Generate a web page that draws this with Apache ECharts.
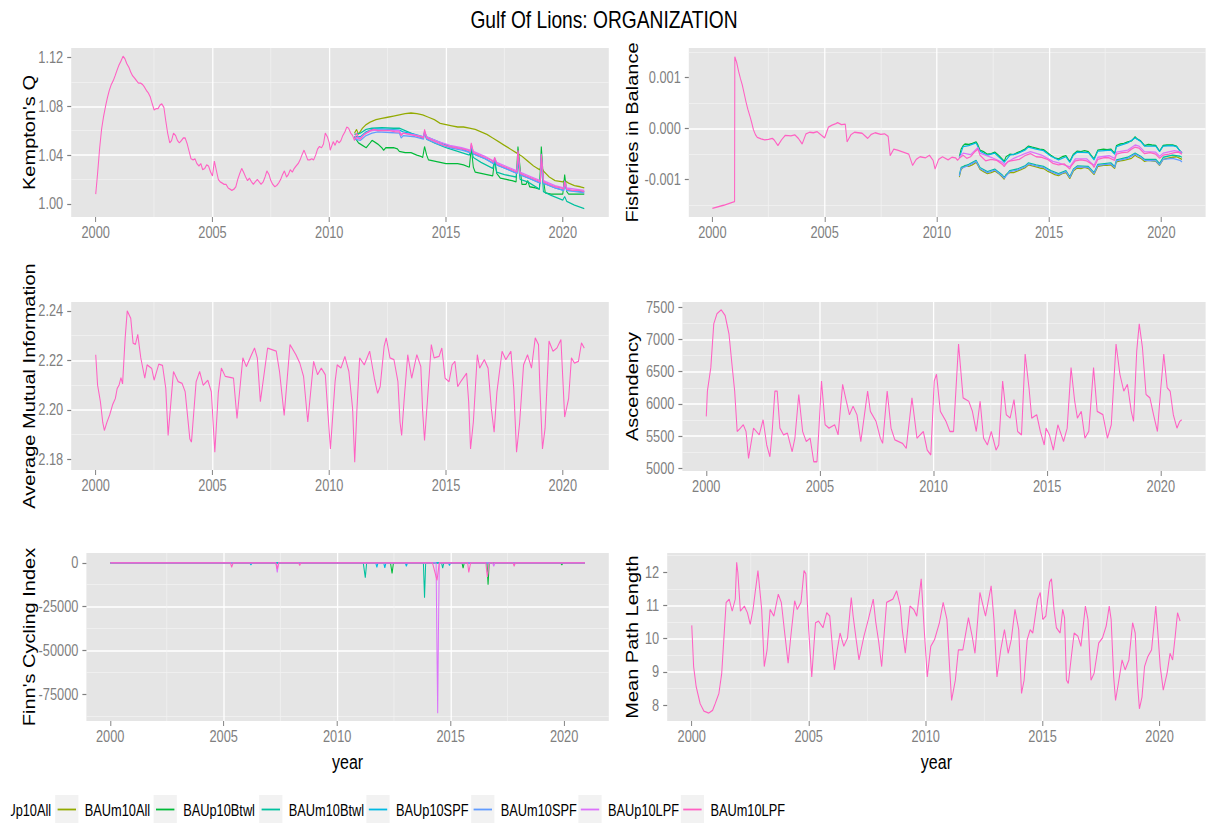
<!DOCTYPE html>
<html>
<head>
<meta charset="utf-8">
<script src="https://cdn.jsdelivr.net/npm/echarts@6.0.0/dist/echarts.min.js"></script>
<style>
  html, body { margin: 0; padding: 0; background: #ffffff; overflow: hidden; width: 1208px; height: 823px; }
  /* the figure is laid out on a wider sheet and narrowed horizontally, like a stretched R device */
  #chart { width: 1510px; height: 823px; transform: scaleX(0.8); transform-origin: 0 0; }
</style>
</head>
<body>
<div id="chart"></div>
<script>
// ---------------- tick labels ----------------
const yearTicks = [2000, 2005, 2010, 2015, 2020];
const kqTicks = [1.00, 1.04, 1.08, 1.12];
const fibTicks = [-0.001, 0, 0.001];
const amiTicks = [2.18, 2.20, 2.22, 2.24];
const ascTicks = [5000, 5500, 6000, 6500, 7000, 7500];
const fciTicks = [-75000, -50000, -25000, 0];
const mplTicks = [8, 9, 10, 11, 12];

// ---------------- scenario names ----------------
const scenarios = ['BAUp10All', 'BAUm10All', 'BAUp10Btwl', 'BAUm10Btwl', 'BAUp10SPF', 'BAUm10SPF', 'BAUp10LPF', 'BAUm10LPF'];

// ---------------- Kempton's Q ----------------
const kqBAUm10LPF = [[2000.00,1.008],[2000.08,1.025],[2000.17,1.046],[2000.25,1.061],[2000.33,1.071],[2000.42,1.080],[2000.50,1.087],[2000.58,1.093],[2000.67,1.098],[2000.75,1.101],[2000.83,1.105],[2000.92,1.110],[2001.00,1.114],[2001.08,1.117],[2001.17,1.121],[2001.25,1.119],[2001.33,1.115],[2001.42,1.112],[2001.50,1.108],[2001.58,1.105],[2001.67,1.103],[2001.75,1.101],[2001.83,1.099],[2001.92,1.099],[2002.00,1.098],[2002.08,1.096],[2002.17,1.093],[2002.25,1.091],[2002.33,1.088],[2002.42,1.082],[2002.50,1.077],[2002.58,1.078],[2002.67,1.078],[2002.75,1.081],[2002.83,1.082],[2002.92,1.079],[2003.00,1.068],[2003.08,1.058],[2003.17,1.050],[2003.25,1.052],[2003.33,1.058],[2003.42,1.056],[2003.50,1.052],[2003.58,1.050],[2003.67,1.052],[2003.75,1.054],[2003.83,1.054],[2003.92,1.049],[2004.00,1.043],[2004.08,1.037],[2004.17,1.036],[2004.25,1.037],[2004.33,1.033],[2004.42,1.031],[2004.50,1.033],[2004.58,1.028],[2004.67,1.029],[2004.75,1.032],[2004.83,1.031],[2004.92,1.026],[2005.00,1.023],[2005.08,1.035],[2005.17,1.027],[2005.25,1.020],[2005.33,1.018],[2005.42,1.017],[2005.50,1.016],[2005.58,1.016],[2005.67,1.013],[2005.75,1.012],[2005.83,1.011],[2005.92,1.012],[2006.00,1.014],[2006.08,1.020],[2006.17,1.025],[2006.25,1.029],[2006.33,1.026],[2006.42,1.022],[2006.50,1.019],[2006.58,1.021],[2006.67,1.018],[2006.75,1.016],[2006.83,1.018],[2006.92,1.020],[2007.00,1.018],[2007.08,1.016],[2007.17,1.018],[2007.25,1.022],[2007.33,1.027],[2007.42,1.024],[2007.50,1.019],[2007.58,1.016],[2007.67,1.014],[2007.75,1.015],[2007.83,1.017],[2007.92,1.020],[2008.00,1.024],[2008.08,1.027],[2008.17,1.022],[2008.25,1.024],[2008.33,1.028],[2008.42,1.026],[2008.50,1.029],[2008.58,1.031],[2008.67,1.033],[2008.75,1.036],[2008.83,1.040],[2008.92,1.044],[2009.00,1.040],[2009.08,1.036],[2009.17,1.036],[2009.25,1.037],[2009.33,1.036],[2009.42,1.040],[2009.50,1.045],[2009.58,1.047],[2009.67,1.046],[2009.75,1.049],[2009.83,1.058],[2009.92,1.055],[2010.00,1.050],[2010.04,1.044],[2010.17,1.051],[2010.25,1.048],[2010.33,1.052],[2010.42,1.050],[2010.50,1.052],[2010.58,1.056],[2010.67,1.059],[2010.75,1.063],[2010.83,1.062],[2010.92,1.058],[2011.00,1.056],[2011.08,1.052],[2011.17,1.058],[2011.25,1.054],[2011.33,1.053],[2011.42,1.055],[2011.50,1.057],[2011.58,1.058],[2011.75,1.060],[2011.92,1.061],[2012.08,1.060],[2012.33,1.060],[2012.58,1.060],[2012.83,1.059],[2013.00,1.059],[2013.08,1.056],[2013.17,1.058],[2013.42,1.057],[2013.67,1.056],[2013.92,1.055],[2014.04,1.054],[2014.08,1.061],[2014.17,1.054],[2014.42,1.052],[2014.67,1.050],[2014.92,1.048],[2015.17,1.047],[2015.42,1.046],[2015.67,1.045],[2015.92,1.044],[2016.04,1.043],[2016.08,1.050],[2016.17,1.042],[2016.42,1.040],[2016.67,1.038],[2016.92,1.036],[2017.04,1.034],[2017.08,1.038],[2017.17,1.033],[2017.42,1.031],[2017.67,1.029],[2017.92,1.027],[2018.04,1.026],[2018.08,1.044],[2018.17,1.025],[2018.42,1.023],[2018.67,1.021],[2018.92,1.019],[2019.04,1.018],[2019.08,1.040],[2019.17,1.018],[2019.42,1.016],[2019.67,1.014],[2019.92,1.013],[2020.04,1.012],[2020.08,1.018],[2020.17,1.012],[2020.42,1.011],[2020.67,1.011],[2020.92,1.010]];
const kqBAUm10All = [[2011.08,1.058],[2011.17,1.061],[2011.25,1.057],[2011.42,1.062],[2011.58,1.065],[2011.75,1.067],[2012.00,1.069],[2012.25,1.070],[2012.50,1.071],[2012.75,1.072],[2013.00,1.073],[2013.25,1.074],[2013.50,1.0745],[2013.75,1.074],[2014.00,1.073],[2014.25,1.071],[2014.50,1.069],[2014.75,1.066],[2015.00,1.065],[2015.25,1.064],[2015.50,1.063],[2015.75,1.063],[2016.00,1.062],[2016.25,1.061],[2016.50,1.059],[2016.75,1.057],[2017.00,1.054],[2017.25,1.051],[2017.50,1.048],[2017.75,1.045],[2018.00,1.042],[2018.25,1.039],[2018.50,1.035],[2018.75,1.031],[2019.00,1.028],[2019.08,1.030],[2019.17,1.027],[2019.42,1.022],[2019.67,1.019],[2020.00,1.018],[2020.08,1.019],[2020.25,1.017],[2020.50,1.015],[2020.75,1.014],[2020.92,1.013]];
const kqBAUp10Btwl = [[2011.08,1.055],[2011.25,1.050],[2011.42,1.048],[2011.58,1.046],[2011.75,1.050],[2011.83,1.052],[2011.92,1.051],[2012.08,1.049],[2012.25,1.046],[2012.33,1.044],[2012.42,1.046],[2012.58,1.046],[2012.75,1.046],[2012.92,1.045],[2013.00,1.043],[2013.25,1.042],[2013.50,1.042],[2013.75,1.040],[2013.92,1.039],[2014.00,1.038],[2014.08,1.047],[2014.17,1.040],[2014.25,1.036],[2014.50,1.035],[2014.75,1.034],[2015.00,1.033],[2015.50,1.033],[2015.75,1.032],[2016.00,1.030],[2016.08,1.046],[2016.17,1.030],[2016.25,1.026],[2016.50,1.025],[2016.75,1.024],[2017.00,1.023],[2017.08,1.036],[2017.17,1.025],[2017.33,1.021],[2017.58,1.020],[2017.83,1.019],[2018.00,1.018],[2018.08,1.047],[2018.17,1.030],[2018.25,1.016],[2018.42,1.016],[2018.50,1.019],[2018.58,1.014],[2018.83,1.013],[2019.00,1.012],[2019.08,1.047],[2019.17,1.020],[2019.25,1.009],[2019.50,1.008],[2019.75,1.008],[2020.00,1.008],[2020.08,1.024],[2020.17,1.010],[2020.25,1.008],[2020.50,1.008],[2020.92,1.008]];
const kqBAUm10Btwl = [[2011.08,1.057],[2011.33,1.058],[2011.58,1.061],[2011.83,1.062],[2012.25,1.0625],[2012.75,1.062],[2013.00,1.062],[2013.25,1.060],[2013.50,1.058],[2013.75,1.056],[2014.00,1.054],[2014.08,1.058],[2014.17,1.053],[2014.50,1.050],[2015.00,1.046],[2015.50,1.043],[2016.00,1.040],[2016.08,1.046],[2016.17,1.038],[2016.50,1.034],[2017.00,1.029],[2017.08,1.035],[2017.17,1.026],[2017.50,1.024],[2018.00,1.022],[2018.08,1.036],[2018.17,1.020],[2018.50,1.018],[2019.00,1.012],[2019.08,1.036],[2019.17,1.010],[2019.50,1.007],[2020.00,1.003],[2020.08,1.006],[2020.17,1.002],[2020.50,0.999],[2020.92,0.996]];
const kqBAUp10SPF = [[2011.08,1.055],[2011.33,1.055],[2011.58,1.059],[2011.83,1.061],[2012.08,1.0615],[2012.58,1.061],[2013.00,1.0605],[2013.17,1.059],[2013.67,1.057],[2014.04,1.055],[2014.08,1.059],[2014.17,1.055],[2014.67,1.051],[2015.17,1.047],[2015.67,1.045],[2016.04,1.042],[2016.08,1.047],[2016.17,1.041],[2016.67,1.037],[2017.04,1.033],[2017.08,1.037],[2017.17,1.032],[2017.67,1.028],[2018.04,1.025],[2018.08,1.041],[2018.17,1.024],[2018.67,1.020],[2019.04,1.017],[2019.08,1.038],[2019.17,1.017],[2019.67,1.013],[2020.04,1.011],[2020.08,1.016],[2020.17,1.011],[2020.92,1.010]];
const kqBAUm10SPF = [[2011.08,1.053],[2011.33,1.052],[2011.58,1.056],[2011.83,1.058],[2012.08,1.059],[2012.58,1.0585],[2013.00,1.058],[2013.08,1.054],[2013.17,1.056],[2013.67,1.055],[2014.04,1.053],[2014.08,1.059],[2014.17,1.053],[2014.67,1.049],[2015.17,1.046],[2015.67,1.044],[2016.04,1.042],[2016.08,1.048],[2016.17,1.041],[2016.67,1.037],[2017.04,1.033],[2017.08,1.037],[2017.17,1.032],[2017.67,1.028],[2018.04,1.025],[2018.08,1.042],[2018.17,1.024],[2018.67,1.020],[2019.04,1.017],[2019.08,1.039],[2019.17,1.017],[2019.67,1.013],[2020.04,1.011],[2020.08,1.017],[2020.17,1.011],[2020.92,1.009]];
const kqBAUp10LPF = [[2011.08,1.054],[2011.33,1.054],[2011.58,1.058],[2011.83,1.060],[2012.08,1.0605],[2012.58,1.0605],[2013.00,1.060],[2013.08,1.057],[2013.17,1.058],[2013.67,1.0565],[2014.04,1.055],[2014.08,1.060],[2014.17,1.055],[2014.67,1.051],[2015.17,1.048],[2015.67,1.046],[2016.04,1.044],[2016.08,1.049],[2016.17,1.043],[2016.67,1.039],[2017.04,1.035],[2017.08,1.038],[2017.17,1.034],[2017.67,1.030],[2018.04,1.027],[2018.08,1.043],[2018.17,1.026],[2018.67,1.022],[2019.04,1.019],[2019.08,1.041],[2019.17,1.019],[2019.67,1.015],[2020.04,1.013],[2020.08,1.019],[2020.17,1.013],[2020.92,1.011]];

// ---------------- Fisheries in Balance ----------------
const fibBAUm10LPF = [[2000.00,-1.56e-3],[2000.50,-1.50e-3],[2000.92,-1.44e-3],[2000.99,-1.43e-3],[2001.00,1.41e-3],[2001.08,1.30e-3],[2001.17,1.12e-3],[2001.25,0.98e-3],[2001.33,0.86e-3],[2001.42,0.68e-3],[2001.50,0.52e-3],[2001.58,0.38e-3],[2001.67,0.25e-3],[2001.75,0.12e-3],[2001.83,-0.02e-3],[2001.92,-0.12e-3],[2002.00,-0.17e-3],[2002.17,-0.20e-3],[2002.33,-0.22e-3],[2002.50,-0.21e-3],[2002.67,-0.19e-3],[2002.75,-0.22e-3],[2002.92,-0.33e-3],[2003.08,-0.22e-3],[2003.25,-0.13e-3],[2003.50,-0.14e-3],[2003.67,-0.12e-3],[2003.83,-0.19e-3],[2004.00,-0.30e-3],[2004.17,-0.10e-3],[2004.33,-0.07e-3],[2004.50,-0.08e-3],[2004.67,-0.06e-3],[2004.83,-0.12e-3],[2005.00,-0.18e-3],[2005.17,0.03e-3],[2005.33,0.07e-3],[2005.50,0.10e-3],[2005.58,0.12e-3],[2005.75,0.08e-3],[2005.92,0.09e-3],[2006.00,-0.26e-3],[2006.17,-0.12e-3],[2006.33,-0.07e-3],[2006.50,-0.08e-3],[2006.67,-0.09e-3],[2006.92,-0.19e-3],[2007.08,-0.11e-3],[2007.25,-0.08e-3],[2007.50,-0.11e-3],[2007.67,-0.10e-3],[2007.83,-0.15e-3],[2007.92,-0.53e-3],[2008.08,-0.40e-3],[2008.25,-0.42e-3],[2008.50,-0.46e-3],[2008.75,-0.50e-3],[2008.92,-0.72e-3],[2009.08,-0.60e-3],[2009.25,-0.55e-3],[2009.50,-0.57e-3],[2009.67,-0.52e-3],[2009.83,-0.62e-3],[2009.92,-0.79e-3],[2010.08,-0.60e-3],[2010.25,-0.55e-3],[2010.50,-0.61e-3],[2010.67,-0.56e-3],[2010.83,-0.57e-3],[2010.92,-0.62e-3],[2011.00,-0.58e-3],[2011.17,-0.52e-3],[2011.33,-0.58e-3],[2011.50,-0.55e-3],[2011.67,-0.46e-3],[2011.83,-0.40e-3],[2011.92,-0.52e-3],[2012.17,-0.63e-3],[2012.42,-0.60e-3],[2012.67,-0.62e-3],[2012.92,-0.70e-3],[2013.00,-0.74e-3],[2013.17,-0.64e-3],[2013.42,-0.62e-3],[2013.67,-0.60e-3],[2013.92,-0.53e-3],[2014.17,-0.49e-3],[2014.42,-0.55e-3],[2014.67,-0.56e-3],[2014.92,-0.60e-3],[2015.17,-0.68e-3],[2015.42,-0.71e-3],[2015.67,-0.69e-3],[2015.92,-0.79e-3],[2016.00,-0.72e-3],[2016.17,-0.63e-3],[2016.42,-0.61e-3],[2016.67,-0.63e-3],[2016.92,-0.70e-3],[2017.00,-0.76e-3],[2017.17,-0.60e-3],[2017.42,-0.57e-3],[2017.67,-0.57e-3],[2017.92,-0.62e-3],[2018.00,-0.50e-3],[2018.25,-0.47e-3],[2018.50,-0.46e-3],[2018.67,-0.40e-3],[2018.83,-0.36e-3],[2019.00,-0.38e-3],[2019.25,-0.49e-3],[2019.50,-0.47e-3],[2019.75,-0.50e-3],[2019.92,-0.58e-3],[2020.08,-0.52e-3],[2020.33,-0.50e-3],[2020.58,-0.47e-3],[2020.75,-0.46e-3],[2020.92,-0.50e-3]];
const fibBAUp10Btwl = [[2011.00,-0.55e-3],[2011.08,-0.40e-3],[2011.17,-0.33e-3],[2011.25,-0.30e-3],[2011.42,-0.31e-3],[2011.58,-0.29e-3],[2011.75,-0.26e-3],[2011.83,-0.32e-3],[2011.92,-0.42e-3],[2012.08,-0.45e-3],[2012.25,-0.50e-3],[2012.42,-0.49e-3],[2012.58,-0.46e-3],[2012.75,-0.52e-3],[2012.92,-0.60e-3],[2013.00,-0.64e-3],[2013.08,-0.55e-3],[2013.25,-0.50e-3],[2013.42,-0.51e-3],[2013.58,-0.47e-3],[2013.75,-0.44e-3],[2013.92,-0.40e-3],[2014.08,-0.34e-3],[2014.25,-0.36e-3],[2014.42,-0.38e-3],[2014.58,-0.40e-3],[2014.75,-0.41e-3],[2014.92,-0.47e-3],[2015.08,-0.52e-3],[2015.25,-0.57e-3],[2015.42,-0.59e-3],[2015.58,-0.55e-3],[2015.75,-0.53e-3],[2015.92,-0.64e-3],[2016.08,-0.50e-3],[2016.25,-0.44e-3],[2016.42,-0.45e-3],[2016.58,-0.43e-3],[2016.75,-0.45e-3],[2016.92,-0.55e-3],[2017.00,-0.59e-3],[2017.17,-0.42e-3],[2017.42,-0.40e-3],[2017.58,-0.41e-3],[2017.75,-0.40e-3],[2017.92,-0.48e-3],[2018.00,-0.33e-3],[2018.17,-0.30e-3],[2018.33,-0.29e-3],[2018.50,-0.26e-3],[2018.67,-0.24e-3],[2018.83,-0.16e-3],[2018.92,-0.20e-3],[2019.08,-0.24e-3],[2019.25,-0.33e-3],[2019.42,-0.31e-3],[2019.58,-0.32e-3],[2019.75,-0.33e-3],[2019.92,-0.44e-3],[2020.08,-0.33e-3],[2020.25,-0.32e-3],[2020.50,-0.32e-3],[2020.67,-0.34e-3],[2020.83,-0.44e-3],[2020.92,-0.47e-3]];
const fibBAUp10SPF = [[2011.00,-0.57e-3],[2011.17,-0.35e-3],[2011.42,-0.33e-3],[2011.75,-0.28e-3],[2011.92,-0.44e-3],[2012.25,-0.52e-3],[2012.58,-0.48e-3],[2012.92,-0.62e-3],[2013.00,-0.66e-3],[2013.25,-0.52e-3],[2013.58,-0.49e-3],[2013.92,-0.42e-3],[2014.08,-0.36e-3],[2014.42,-0.40e-3],[2014.75,-0.43e-3],[2015.08,-0.54e-3],[2015.42,-0.61e-3],[2015.75,-0.55e-3],[2015.92,-0.66e-3],[2016.08,-0.52e-3],[2016.25,-0.46e-3],[2016.75,-0.47e-3],[2017.00,-0.61e-3],[2017.17,-0.44e-3],[2017.75,-0.42e-3],[2017.92,-0.50e-3],[2018.00,-0.35e-3],[2018.50,-0.28e-3],[2018.83,-0.18e-3],[2019.08,-0.25e-3],[2019.25,-0.34e-3],[2019.75,-0.34e-3],[2019.92,-0.45e-3],[2020.08,-0.34e-3],[2020.50,-0.33e-3],[2020.67,-0.35e-3],[2020.92,-0.48e-3]];
const fibBAUp10LPF = [[2011.00,-0.55e-3],[2011.17,-0.48e-3],[2011.50,-0.51e-3],[2011.83,-0.37e-3],[2011.92,-0.48e-3],[2012.42,-0.56e-3],[2012.92,-0.66e-3],[2013.00,-0.70e-3],[2013.42,-0.58e-3],[2013.92,-0.49e-3],[2014.17,-0.45e-3],[2014.67,-0.52e-3],[2015.17,-0.64e-3],[2015.42,-0.67e-3],[2015.92,-0.75e-3],[2016.17,-0.59e-3],[2016.67,-0.59e-3],[2017.00,-0.72e-3],[2017.17,-0.56e-3],[2017.67,-0.53e-3],[2017.92,-0.58e-3],[2018.00,-0.46e-3],[2018.50,-0.42e-3],[2018.83,-0.32e-3],[2019.00,-0.34e-3],[2019.25,-0.45e-3],[2019.75,-0.46e-3],[2019.92,-0.54e-3],[2020.08,-0.48e-3],[2020.58,-0.43e-3],[2020.92,-0.46e-3]];
const fibBAUm10Btwl = [[2011.00,-0.90e-3],[2011.08,-0.76e-3],[2011.42,-0.70e-3],[2011.75,-0.62e-3],[2011.92,-0.76e-3],[2012.25,-0.84e-3],[2012.58,-0.79e-3],[2012.92,-0.91e-3],[2013.00,-0.95e-3],[2013.25,-0.82e-3],[2013.58,-0.79e-3],[2013.92,-0.73e-3],[2014.08,-0.67e-3],[2014.42,-0.71e-3],[2014.75,-0.74e-3],[2015.08,-0.82e-3],[2015.42,-0.88e-3],[2015.75,-0.82e-3],[2015.92,-0.94e-3],[2016.08,-0.79e-3],[2016.25,-0.73e-3],[2016.75,-0.74e-3],[2017.00,-0.86e-3],[2017.17,-0.70e-3],[2017.75,-0.67e-3],[2017.92,-0.74e-3],[2018.00,-0.61e-3],[2018.50,-0.56e-3],[2018.83,-0.48e-3],[2019.08,-0.54e-3],[2019.25,-0.60e-3],[2019.75,-0.60e-3],[2019.92,-0.68e-3],[2020.08,-0.56e-3],[2020.50,-0.52e-3],[2020.83,-0.54e-3],[2020.92,-0.56e-3]];
const fibBAUm10SPF = [[2011.00,-0.93e-3],[2011.08,-0.78e-3],[2011.42,-0.72e-3],[2011.75,-0.64e-3],[2011.92,-0.78e-3],[2012.25,-0.86e-3],[2012.58,-0.81e-3],[2012.92,-0.93e-3],[2013.00,-0.97e-3],[2013.25,-0.84e-3],[2013.58,-0.81e-3],[2013.92,-0.75e-3],[2014.08,-0.69e-3],[2014.42,-0.73e-3],[2014.75,-0.76e-3],[2015.08,-0.84e-3],[2015.42,-0.90e-3],[2015.75,-0.84e-3],[2015.92,-0.96e-3],[2016.08,-0.81e-3],[2016.25,-0.75e-3],[2016.75,-0.76e-3],[2017.00,-0.88e-3],[2017.17,-0.72e-3],[2017.75,-0.69e-3],[2017.92,-0.76e-3],[2018.00,-0.63e-3],[2018.50,-0.58e-3],[2018.83,-0.50e-3],[2019.08,-0.56e-3],[2019.25,-0.62e-3],[2019.75,-0.63e-3],[2019.92,-0.71e-3],[2020.08,-0.60e-3],[2020.50,-0.58e-3],[2020.83,-0.62e-3],[2020.92,-0.65e-3]];
const fibBAUm10All = [[2011.00,-0.95e-3],[2011.08,-0.80e-3],[2011.25,-0.72e-3],[2011.42,-0.74e-3],[2011.58,-0.71e-3],[2011.75,-0.66e-3],[2011.83,-0.72e-3],[2011.92,-0.80e-3],[2012.08,-0.84e-3],[2012.25,-0.88e-3],[2012.42,-0.86e-3],[2012.58,-0.83e-3],[2012.75,-0.88e-3],[2012.92,-0.95e-3],[2013.00,-0.99e-3],[2013.08,-0.90e-3],[2013.25,-0.86e-3],[2013.42,-0.86e-3],[2013.58,-0.83e-3],[2013.75,-0.80e-3],[2013.92,-0.77e-3],[2014.08,-0.71e-3],[2014.25,-0.73e-3],[2014.42,-0.75e-3],[2014.58,-0.77e-3],[2014.75,-0.78e-3],[2014.92,-0.83e-3],[2015.08,-0.86e-3],[2015.25,-0.90e-3],[2015.42,-0.92e-3],[2015.58,-0.88e-3],[2015.75,-0.86e-3],[2015.92,-0.98e-3],[2016.08,-0.83e-3],[2016.25,-0.77e-3],[2016.42,-0.78e-3],[2016.58,-0.76e-3],[2016.75,-0.78e-3],[2016.92,-0.86e-3],[2017.00,-0.90e-3],[2017.17,-0.74e-3],[2017.42,-0.72e-3],[2017.58,-0.72e-3],[2017.75,-0.71e-3],[2017.92,-0.78e-3],[2018.00,-0.65e-3],[2018.17,-0.63e-3],[2018.33,-0.62e-3],[2018.50,-0.60e-3],[2018.67,-0.58e-3],[2018.83,-0.52e-3],[2018.92,-0.55e-3],[2019.08,-0.58e-3],[2019.25,-0.64e-3],[2019.42,-0.62e-3],[2019.58,-0.63e-3],[2019.75,-0.64e-3],[2019.92,-0.72e-3],[2020.08,-0.60e-3],[2020.25,-0.58e-3],[2020.50,-0.56e-3],[2020.67,-0.55e-3],[2020.83,-0.58e-3],[2020.92,-0.60e-3]];

// ---------------- Average Mutual Information ----------------
const amiBAUm10LPF = [[2000.00,2.2223],[2000.08,2.2100],[2000.20,2.2033],[2000.30,2.1950],[2000.37,2.1917],[2000.48,2.1950],[2000.60,2.1980],[2000.72,2.2020],[2000.84,2.2046],[2000.92,2.2087],[2001.00,2.2100],[2001.08,2.2130],[2001.15,2.2105],[2001.26,2.2290],[2001.35,2.2400],[2001.50,2.2370],[2001.60,2.2270],[2001.70,2.2265],[2001.80,2.2305],[2001.93,2.2210],[2002.10,2.2128],[2002.20,2.2182],[2002.40,2.2167],[2002.50,2.2120],[2002.70,2.2185],[2002.86,2.2180],[2003.00,2.2087],[2003.10,2.1897],[2003.28,2.2100],[2003.33,2.2155],[2003.53,2.2114],[2003.70,2.2107],[2003.83,2.2073],[2004.03,2.1883],[2004.10,2.1870],[2004.30,2.2114],[2004.45,2.2155],[2004.60,2.2100],[2004.80,2.2120],[2004.95,2.2073],[2005.10,2.1829],[2005.25,2.2070],[2005.38,2.2169],[2005.55,2.2135],[2005.90,2.2128],[2006.05,2.1965],[2006.30,2.2210],[2006.45,2.2175],[2006.64,2.2216],[2006.80,2.2250],[2006.92,2.2210],[2007.05,2.2033],[2007.36,2.2250],[2007.73,2.2237],[2007.87,2.2155],[2008.07,2.1978],[2008.32,2.2264],[2008.57,2.2223],[2008.74,2.2189],[2008.90,2.2135],[2009.08,2.1951],[2009.33,2.2196],[2009.50,2.2142],[2009.66,2.2169],[2009.83,2.2142],[2010.05,2.1842],[2010.25,2.2114],[2010.34,2.2182],[2010.50,2.2169],[2010.67,2.2216],[2010.84,2.2155],[2011.00,2.2005],[2011.09,2.1788],[2011.18,2.1992],[2011.30,2.2210],[2011.50,2.2182],[2011.73,2.2237],[2011.93,2.2128],[2012.07,2.2067],[2012.18,2.2094],[2012.35,2.2257],[2012.44,2.2291],[2012.60,2.2210],[2012.77,2.2203],[2012.94,2.2114],[2013.03,2.1951],[2013.10,2.1897],[2013.20,2.2033],[2013.36,2.2223],[2013.53,2.2128],[2013.75,2.2223],[2013.92,2.2175],[2014.00,2.1992],[2014.08,2.1876],[2014.20,2.2033],[2014.37,2.2264],[2014.49,2.2210],[2014.70,2.2216],[2014.82,2.2250],[2014.96,2.2128],[2015.13,2.2114],[2015.26,2.2182],[2015.38,2.2196],[2015.50,2.2094],[2015.63,2.2114],[2015.88,2.2148],[2015.97,2.2033],[2016.05,2.1842],[2016.17,2.1951],[2016.34,2.2223],[2016.44,2.2169],[2016.64,2.2203],[2016.80,2.2169],[2016.94,2.2005],[2017.06,2.1910],[2017.18,2.2073],[2017.40,2.2237],[2017.56,2.2203],[2017.78,2.2237],[2017.90,2.2087],[2018.02,2.1829],[2018.15,2.1946],[2018.32,2.2182],[2018.49,2.2223],[2018.66,2.2169],[2018.82,2.2291],[2018.96,2.2264],[2019.02,2.2087],[2019.13,2.1842],[2019.24,2.1924],[2019.41,2.2278],[2019.58,2.2237],[2019.75,2.2250],[2019.92,2.2284],[2020.00,2.2128],[2020.08,2.1971],[2020.25,2.2046],[2020.37,2.2210],[2020.50,2.2189],[2020.67,2.2196],[2020.80,2.2271],[2020.92,2.2250]];

// ---------------- Ascendency ----------------
const ascBAUm10LPF = [[2000.00,5807],[2000.05,6198],[2000.20,6562],[2000.33,7240],[2000.47,7396],[2000.66,7458],[2000.83,7370],[2001.00,7083],[2001.13,6615],[2001.25,6198],[2001.36,5573],[2001.50,5625],[2001.63,5677],[2001.75,5573],[2001.86,5156],[2002.08,5625],[2002.33,5521],[2002.50,5755],[2002.66,5365],[2002.80,5182],[2002.90,5573],[2003.02,6198],[2003.12,6198],[2003.24,5625],[2003.40,5521],[2003.57,5547],[2003.78,5260],[2003.90,5469],[2004.07,6146],[2004.24,5573],[2004.40,5417],[2004.57,5469],[2004.73,5104],[2004.87,5104],[2004.95,5573],[2005.07,6354],[2005.23,5677],[2005.40,5625],[2005.65,5677],[2005.80,5521],[2006.00,6302],[2006.13,6094],[2006.30,5833],[2006.46,5964],[2006.63,5833],[2006.80,5417],[2006.94,5781],[2007.10,6198],[2007.22,5885],[2007.47,5729],[2007.66,5469],[2007.76,5390],[2007.96,6198],[2008.13,5625],[2008.30,5443],[2008.63,5390],[2008.80,5312],[2009.05,6094],[2009.27,5469],[2009.55,5573],[2009.72,5286],[2009.88,5208],[2010.03,6354],[2010.13,6458],[2010.30,5885],[2010.55,5729],[2010.72,5573],[2010.88,5573],[2011.10,6927],[2011.30,6094],[2011.55,6042],[2011.71,5885],[2011.88,5573],[2012.05,6042],[2012.20,5469],[2012.37,5365],[2012.54,5573],[2012.75,5286],[2012.87,5365],[2013.04,6354],[2013.20,5833],[2013.37,5781],[2013.54,6068],[2013.70,5573],[2013.87,5521],[2014.03,6771],[2014.20,6250],[2014.32,5781],[2014.54,5833],[2014.70,5573],[2014.87,5365],[2014.95,5625],[2015.10,5521],[2015.27,5286],[2015.47,5677],[2015.72,5417],[2015.88,5625],[2016.05,6562],[2016.21,6042],[2016.33,5781],[2016.50,5885],[2016.66,5469],[2016.83,5573],[2017.04,6562],[2017.20,5885],[2017.45,5833],[2017.65,5469],[2017.82,5677],[2018.03,6927],[2018.20,6458],[2018.37,6198],[2018.53,6302],[2018.70,5885],[2018.80,5729],[2018.94,6823],[2019.05,7240],[2019.19,6875],[2019.35,6146],[2019.52,6094],[2019.68,5833],[2019.85,5573],[2020.00,6250],[2020.13,6771],[2020.28,6250],[2020.41,6198],[2020.55,5833],[2020.71,5625],[2020.83,5729],[2020.92,5755]];

// ---------------- Finn's Cycling Index ----------------
const fciBAUm10LPF = [[2000.00,0],[2005.30,0],[2005.35,-2500],[2005.42,0],[2007.30,0],[2007.36,-3500],[2007.42,0],[2008.30,0],[2008.35,-1500],[2008.40,0],[2014.20,0],[2014.30,-5000],[2014.40,-10000],[2014.50,0],[2015.75,0],[2015.80,-5500],[2015.88,0],[2016.55,0],[2016.62,-8000],[2016.70,0],[2017.75,0],[2017.80,-2000],[2017.85,0],[2020.92,0]];
const fciBAUp10LPF = [[2000.00,0],[2007.30,0],[2007.36,-5500],[2007.42,0],[2014.36,0],[2014.41,-64000],[2014.43,-86000],[2014.46,-42500],[2014.50,0],[2016.85,0],[2016.90,-2000],[2016.95,0],[2020.92,0]];
const fciBAUm10Btwl = [[2000.00,0],[2011.15,0],[2011.24,-8500],[2011.30,0],[2013.80,0],[2013.85,-20000],[2013.90,0],[2014.60,0],[2014.65,-3000],[2014.70,0],[2020.92,0]];
const fciBAUp10Btwl = [[2000.00,0],[2012.35,0],[2012.42,-6000],[2012.48,0],[2015.50,0],[2015.55,-3000],[2015.60,0],[2016.60,0],[2016.65,-12500],[2016.70,0],[2019.85,0],[2019.90,-1200],[2019.95,0],[2020.92,0]];
const fciBAUp10SPF = [[2000.00,0],[2006.15,0],[2006.20,-1200],[2006.25,0],[2011.70,0],[2011.75,-2500],[2011.80,0],[2012.05,0],[2012.10,-2800],[2012.15,0],[2013.00,0],[2013.05,-2000],[2013.10,0],[2014.90,0],[2014.95,-1500],[2015.00,0],[2020.92,0]];

// ---------------- Mean Path Length ----------------
const mplBAUm10LPF = [[2000.00,10.40],[2000.08,9.16],[2000.19,8.55],[2000.36,8.04],[2000.52,7.82],[2000.73,7.76],[2000.89,7.84],[2001.00,8.04],[2001.16,8.35],[2001.28,8.95],[2001.37,9.97],[2001.47,11.09],[2001.60,11.19],[2001.73,10.83],[2001.86,11.19],[2001.92,12.30],[2001.97,12.00],[2002.08,10.83],[2002.25,10.98],[2002.38,10.78],[2002.50,10.43],[2002.62,10.88],[2002.83,12.05],[2002.99,10.88],[2003.10,9.16],[2003.22,9.66],[2003.35,10.88],[2003.51,10.68],[2003.70,11.34],[2003.83,11.09],[2003.99,10.07],[2004.12,9.26],[2004.25,10.17],[2004.40,11.14],[2004.51,10.88],[2004.67,11.09],[2004.80,12.05],[2004.88,11.95],[2005.00,10.27],[2005.13,8.85],[2005.29,10.48],[2005.42,10.53],[2005.61,10.33],[2005.77,10.78],[2005.90,10.68],[2006.10,9.06],[2006.22,9.66],[2006.34,10.17],[2006.50,9.77],[2006.66,10.02],[2006.82,11.24],[2006.90,10.68],[2007.03,9.97],[2007.15,9.36],[2007.36,10.07],[2007.55,10.58],[2007.76,11.19],[2007.87,10.48],[2008.00,9.87],[2008.12,9.16],[2008.33,11.09],[2008.60,11.19],[2008.76,11.44],[2008.92,10.98],[2009.00,10.27],[2009.13,9.56],[2009.33,10.98],[2009.49,10.88],[2009.62,10.68],[2009.81,11.80],[2009.94,10.27],[2010.07,8.85],[2010.22,9.77],[2010.38,9.97],[2010.59,10.48],[2010.75,11.09],[2010.91,10.58],[2011.04,8.95],[2011.11,8.14],[2011.27,8.75],[2011.40,9.66],[2011.59,9.66],[2011.83,10.63],[2011.99,10.07],[2012.11,9.56],[2012.32,11.39],[2012.56,10.68],[2012.80,11.59],[2012.92,10.58],[2013.05,8.85],[2013.21,9.66],[2013.37,10.27],[2013.53,9.56],[2013.66,9.97],[2013.82,10.88],[2013.98,10.27],[2014.10,8.35],[2014.21,8.75],[2014.34,9.97],[2014.47,10.27],[2014.58,10.17],[2014.79,11.19],[2014.90,11.39],[2015.01,10.58],[2015.14,10.68],[2015.30,11.70],[2015.38,11.80],[2015.49,10.88],[2015.59,10.33],[2015.75,10.17],[2015.86,10.88],[2015.94,10.63],[2016.02,8.75],[2016.10,8.65],[2016.23,9.46],[2016.35,10.17],[2016.51,10.07],[2016.64,9.77],[2016.83,10.98],[2016.94,10.58],[2017.07,8.75],[2017.20,8.95],[2017.40,9.87],[2017.56,10.02],[2017.72,10.38],[2017.85,10.98],[2017.93,10.58],[2018.04,8.85],[2018.12,8.14],[2018.24,8.65],[2018.40,9.36],[2018.53,9.06],[2018.69,9.36],[2018.85,10.48],[2018.96,10.17],[2019.06,8.65],[2019.14,7.89],[2019.25,8.24],[2019.36,9.16],[2019.50,9.46],[2019.66,9.66],[2019.84,10.98],[2019.92,10.27],[2020.03,9.16],[2020.16,8.45],[2020.32,8.95],[2020.45,9.56],[2020.56,9.36],[2020.67,10.07],[2020.77,10.78],[2020.88,10.53]];

// ---------------- styling ----------------
const FONT = "'Liberation Sans', Arial, sans-serif";
const colors = {
  BAUp10All: '#D39200', BAUm10All: '#93AA00', BAUp10Btwl: '#00BA38', BAUm10Btwl: '#00C19F',
  BAUp10SPF: '#00B9E3', BAUm10SPF: '#619CFF', BAUp10LPF: '#DB72FB', BAUm10LPF: '#FF61C3'
};

// panel rectangles on the 1510-wide sheet
const panels = [
  { left: 89,  top: 48,  width: 672, height: 169 },
  { left: 861, top: 48,  width: 646, height: 169 },
  { left: 89,  top: 302, width: 672, height: 168 },
  { left: 853, top: 302, width: 654, height: 169 },
  { left: 108, top: 553, width: 653, height: 168 },
  { left: 834, top: 553, width: 673, height: 168 }
];

const xRange = [1998.95, 2021.97];

function xAxisFor(i) {
  return {
    type: 'value', gridIndex: i, min: xRange[0], max: xRange[1],
    minInterval: 5, maxInterval: 5,
    axisLine: { show: false, onZero: false },
    axisTick: { show: true, length: 5, customValues: yearTicks, lineStyle: { color: '#7F7F7F', width: 1.2 } },
    axisLabel: { customValues: yearTicks, color: '#7F7F7F', fontSize: 16, fontFamily: FONT, margin: 7,
                 formatter: v => String(v) },
    splitLine: { show: true, showMinLine: false, showMaxLine: false, lineStyle: { color: '#FFFFFF', width: 1.6 } },
    minorTick: { show: false, splitNumber: 2 },
    minorSplitLine: { show: true, lineStyle: { color: '#F2F2F2', width: 0.8 } }
  };
}

function yAxisFor(i, min, max, step, ticks, fmt) {
  return {
    type: 'value', gridIndex: i, min: min, max: max,
    minInterval: step, maxInterval: step,
    axisLine: { show: false, onZero: false },
    axisTick: { show: true, length: 5, customValues: ticks, lineStyle: { color: '#7F7F7F', width: 1.2 } },
    axisLabel: { customValues: ticks, color: '#7F7F7F', fontSize: 16, fontFamily: FONT, margin: 10, formatter: fmt },
    splitLine: { show: true, showMinLine: false, showMaxLine: false, lineStyle: { color: '#FFFFFF', width: 1.6 } },
    minorTick: { show: false, splitNumber: 2 },
    minorSplitLine: { show: true, lineStyle: { color: '#F2F2F2', width: 0.8 } }
  };
}

function line(panel, name, data) {
  return {
    type: 'line', name: name, xAxisIndex: panel, yAxisIndex: panel, data: data,
    showSymbol: false, symbol: 'none', smooth: false, clip: true, silent: true,
    lineStyle: { color: colors[name], width: 1.3 }, itemStyle: { color: colors[name] }
  };
}

const series = [
  // Kempton's Q
  line(0, 'BAUm10All', kqBAUm10All),
  line(0, 'BAUp10Btwl', kqBAUp10Btwl),
  line(0, 'BAUm10Btwl', kqBAUm10Btwl),
  line(0, 'BAUp10SPF', kqBAUp10SPF),
  line(0, 'BAUm10SPF', kqBAUm10SPF),
  line(0, 'BAUp10LPF', kqBAUp10LPF),
  line(0, 'BAUm10LPF', kqBAUm10LPF),
  // Fisheries in Balance
  line(1, 'BAUm10All', fibBAUm10All),
  line(1, 'BAUp10Btwl', fibBAUp10Btwl),
  line(1, 'BAUm10Btwl', fibBAUm10Btwl),
  line(1, 'BAUp10SPF', fibBAUp10SPF),
  line(1, 'BAUm10SPF', fibBAUm10SPF),
  line(1, 'BAUp10LPF', fibBAUp10LPF),
  line(1, 'BAUm10LPF', fibBAUm10LPF),
  // Average Mutual Information
  line(2, 'BAUm10LPF', amiBAUm10LPF),
  // Ascendency
  line(3, 'BAUm10LPF', ascBAUm10LPF),
  // Finn's Cycling Index
  line(4, 'BAUp10Btwl', fciBAUp10Btwl),
  line(4, 'BAUm10Btwl', fciBAUm10Btwl),
  line(4, 'BAUp10SPF', fciBAUp10SPF),
  line(4, 'BAUp10LPF', fciBAUp10LPF),
  line(4, 'BAUm10LPF', fciBAUm10LPF),
  // Mean Path Length
  line(5, 'BAUm10LPF', mplBAUm10LPF)
];

// axis titles, plot title and legend keys
function txt(x, y, text, size, opts) {
  return Object.assign({
    type: 'text', x: x, y: y, z: 100,
    style: { text: text, fontSize: size, fontFamily: FONT, fill: '#000000', align: 'center', verticalAlign: 'middle' }
  }, opts || {});
}
function yTitle(x, panel, text) {
  const p = panels[panel];
  return txt(x, p.top + p.height / 2, text, 20, { rotation: Math.PI / 2 });
}

const graphics = [
  txt(755, 20, 'Gulf Of Lions: ORGANIZATION', 24),
  yTitle(37, 0, "Kempton's Q"),
  yTitle(791, 1, 'Fisheries in Balance'),
  yTitle(37, 2, 'Average Mutual Information'),
  yTitle(791, 3, 'Ascendency'),
  yTitle(37, 4, "Finn's Cycling Index"),
  yTitle(791, 5, 'Mean Path Length'),
  txt(panels[4].left + panels[4].width / 2, 762, 'year', 20),
  txt(panels[5].left + panels[5].width / 2, 762, 'year', 20)
];

// legend row: key boxes and labels (the first entry runs off the left edge)
const legendBoxLeft = [69, 192, 324, 458, 589, 723, 851];
graphics.push(txt(64, 810, scenarios[0], 16, { style: { text: scenarios[0], fontSize: 16, fontFamily: FONT, fill: '#000000', align: 'right', verticalAlign: 'middle' } }));
legendBoxLeft.forEach((bx, k) => {
  const name = scenarios[k + 1];
  graphics.push({ type: 'rect', z: 100, shape: { x: bx, y: 795, width: 29, height: 29 }, style: { fill: '#F2F2F2' } });
  graphics.push({ type: 'line', z: 101, shape: { x1: bx + 3, y1: 809.5, x2: bx + 26, y2: 809.5 }, style: { stroke: colors[name], lineWidth: 1.8 } });
  graphics.push(txt(bx + 37, 810, name, 16, { style: { text: name, fontSize: 16, fontFamily: FONT, fill: '#000000', align: 'left', verticalAlign: 'middle' } }));
});
// left page margin over the legend row
graphics.push({ type: 'rect', z: 120, shape: { x: 0, y: 788, width: 13.5, height: 35 }, style: { fill: '#FFFFFF' } });

const option = {
  animation: false,
  backgroundColor: '#FFFFFF',
  textStyle: { fontFamily: FONT },
  grid: panels.map(p => Object.assign({ show: true, backgroundColor: '#E5E5E5', borderWidth: 0 }, p)),
  xAxis: panels.map((p, i) => xAxisFor(i)),
  yAxis: [
    yAxisFor(0, 0.9892, 1.1278, 0.04, kqTicks, v => v.toFixed(2)),
    yAxisFor(1, -0.00173, 0.00158, 0.001, fibTicks, v => v.toFixed(3)),
    yAxisFor(2, 2.1757, 2.2436, 0.02, amiTicks, v => v.toFixed(2)),
    yAxisFor(3, 4961, 7579, 500, ascTicks, v => String(v)),
    yAxisFor(4, -90400, 5600, 25000, fciTicks, v => String(Math.round(v))),
    yAxisFor(5, 7.52, 12.58, 1, mplTicks, v => String(v))
  ],
  series: series,
  graphic: graphics
};

const chart = echarts.init(document.getElementById('chart'), null, { renderer: 'svg' });
chart.setOption(option);
</script>
</body>
</html>
